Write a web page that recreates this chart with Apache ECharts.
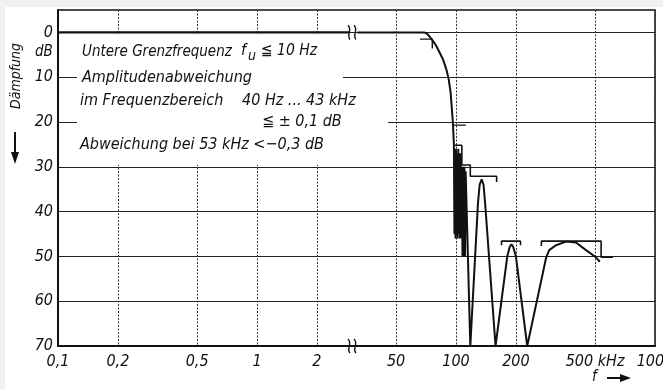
<!DOCTYPE html>
<html>
<head>
<meta charset="utf-8">
<script src="https://cdn.jsdelivr.net/npm/echarts@6/dist/echarts.min.js"></script>
<style>
  html, body { margin: 0; padding: 0; background: #ffffff; }
  #chart { width: 663px; height: 389px; }
</style>
</head>
<body>
<div id="chart"></div>
<script>
// Frequency axis: logarithmic, with the range 3 kHz ... 30 kHz cut out
// (the part above the break is drawn one decade further left).
const tickFreq = [0.1, 0.2, 0.5, 1, 2, 50, 100, 200, 500, 1000];
const tickText = ['0,1', '0,2', '0,5', '1', '2', '50', '100', '200', '500 kHz', '1000'];
const dbTicks  = [0, 10, 20, 30, 40, 50, 60, 70];
const BREAK_FREQ = 3;

// Attenuation below the break (kHz, dB)
const lowFreq = [0.1, 2.9];
const lowDb   = [0, 0];

// Attenuation above the break (kHz, dB)
const curveFreq = [
  32, 60, 69, 71, 73, 75.7, 78, 80, 83.2, 86, 88, 90, 92, 94, 96.4, 97.6,
  98.2, 98.8, 99.4, 100, 100.7, 101.3, 102, 102.7, 103.4, 104, 104.8, 105.5, 106.3, 107,
  107.8, 108.6, 109.4, 110.2, 111, 111.8, 118,
  129, 131.5, 134.6, 137.5, 140, 158,
  181, 186, 190, 194, 200, 228,
  284, 294, 318, 357, 401, 450, 505, 528
];
const curveDb = [
  0, 0, 0, 0.2, 0.7, 1.6, 2.4, 3.2, 4.7, 6, 7.3, 8.7, 10.6, 13.5, 20, 25,
  45, 26, 46, 26, 45, 27, 46, 26, 45, 27, 46, 27, 46, 30,
  50, 30, 50, 30, 50, 31, 70,
  38, 34, 32.8, 34, 38, 70,
  50, 47.9, 47.3, 47.9, 50, 70,
  50.2, 48.6, 47.5, 46.7, 46.9, 48.6, 50.2, 51.2
];

// Tolerance marks [kHz, dB]
const tolPassband = [[66, 1.5], [76, 1.5], [76, 3.6]];
const tolTwenty   = [[96.4, 20.7], [112, 20.7]];
const tolStep     = [[98.6, 25.2], [107, 25.2], [107, 29.6], [118, 29.6], [118, 32.1], [160, 32.1], [160, 33.4]];
const tolBracket1 = [[169.3, 47.5], [169.3, 46.6], [210.9, 46.6], [210.9, 47.5]];
const tolBracket2 = [[268.6, 47.7], [268.6, 46.6], [536, 46.6], [536, 50.2], [615, 50.2]];

// position on the (broken) logarithmic axis
function axisPos(f) {
  const p = f <= BREAK_FREQ ? f : f / 10;
  return Math.log10(p);
}
const tickPos = tickFreq.map(axisPos);
function tickLabel(v) {
  for (let i = 0; i < tickPos.length; i++) {
    if (Math.abs(tickPos[i] - v) < 1e-6) return tickText[i];
  }
  return '';
}
function pts(fs, ds) { return fs.map((f, i) => [axisPos(f), ds[i]]); }
function tolPts(arr) { return arr.map(p => [axisPos(p[0]), p[1]]); }

const FONT = "'DejaVu Sans Condensed', 'DejaVu Sans', sans-serif";
const INK = '#111';

const chart = echarts.init(document.getElementById('chart'), null, { renderer: 'canvas' });

const lineSeries = (name, data, w) => ({
  name, type: 'line', data, symbol: 'none', silent: true, animation: false,
  lineStyle: { color: INK, width: w }, z: 3
});

chart.setOption({
  backgroundColor: '#ffffff',
  animation: false,
  grid: {
    left: 58, right: 8, top: 10, bottom: 43, show: true,
    borderColor: INK, borderWidth: 1.5,
    containLabel: false, outerBoundsMode: 'none'
  },
  xAxis: {
    type: 'value', min: axisPos(0.1), max: axisPos(1000),
    axisLine: { onZero: false, lineStyle: { color: INK, width: 2 } },
    axisTick: { show: false, customValues: tickPos },
    axisLabel: {
      customValues: tickPos, formatter: tickLabel, margin: 8, hideOverlap: false,
      showMinLabel: true, showMaxLabel: true,
      fontFamily: FONT, fontStyle: 'italic', fontSize: 16, color: INK
    },
    splitLine: { show: true, lineStyle: { color: '#333', width: 1, type: [2, 1.5] } }
  },
  yAxis: {
    type: 'value', inverse: true, min: -5, max: 70,
    axisLine: { onZero: false, lineStyle: { color: INK, width: 2 } },
    axisTick: { show: false, customValues: dbTicks },
    axisLabel: {
      customValues: dbTicks, margin: 5,
      fontFamily: FONT, fontStyle: 'italic', fontSize: 16, color: INK
    },
    splitLine: { show: true, lineStyle: { color: '#222', width: 1.2 } }
  },
  series: [
    lineSeries('unten', pts(lowFreq, lowDb), 2.2),
    lineSeries('Dämpfung', pts(curveFreq, curveDb), 2),
    lineSeries('Toleranz 1', tolPts(tolPassband), 1.4),
    lineSeries('Toleranz 2', tolPts(tolTwenty), 1.4),
    lineSeries('Toleranz 3', tolPts(tolStep), 1.6),
    lineSeries('Toleranz 4', tolPts(tolBracket1), 1.6),
    lineSeries('Toleranz 5', tolPts(tolBracket2), 1.6)
  ]
});

// annotations: text panel, axis names, break marks
const bx = chart.convertToPixel({ xAxisIndex: 0 }, Math.log10(BREAK_FREQ));
const yTop = chart.convertToPixel({ yAxisIndex: 0 }, 0);
const yBot = chart.convertToPixel({ yAxisIndex: 0 }, 70);
const y10 = chart.convertToPixel({ yAxisIndex: 0 }, 10);
const y30 = chart.convertToPixel({ yAxisIndex: 0 }, 30);

function breakMark(cx, cy) {
  const mk = dx => ({
    type: 'bezierCurve', z: 20, silent: true,
    shape: { x1: cx + dx - 1, y1: cy - 7, cpx1: cx + dx + 4, cpy1: cy - 3, cpx2: cx + dx - 3, cpy2: cy + 3, x2: cx + dx + 1, y2: cy + 7 },
    style: { stroke: INK, lineWidth: 1.4, fill: null }
  });
  return [mk(-3), mk(3)];
}
const txt = (x, y, text, size, extra) => Object.assign({
  type: 'text', x, y, z: 30, silent: true,
  style: { text, fontFamily: FONT, fontStyle: 'italic', fontSize: size || 16, fill: INK, textVerticalAlign: 'middle', textAlign: 'left' }
}, extra || {});

chart.setOption({
  graphic: [
    // light scan margin
    { type: 'rect', z: 0, silent: true, shape: { x: 0, y: 0, width: 663, height: 7 }, style: { fill: '#f0f0f0' } },
    { type: 'rect', z: 0, silent: true, shape: { x: 0, y: 0, width: 5, height: 389 }, style: { fill: '#f0f0f0' } },
    // white panel behind the notes
    { type: 'rect', z: 10, silent: true, shape: { x: 77, y: yTop + 2, width: 266, height: y30 - yTop - 4 }, style: { fill: '#fff' } },
    { type: 'rect', z: 10, silent: true, shape: { x: 340, y: y10 + 12, width: 48, height: y30 - y10 - 14 }, style: { fill: '#fff' } },
    txt(82, 52, 'Untere Grenzfrequenz', 15),
    txt(241, 51, 'f', 16),
    txt(248, 56, 'u', 14),
    txt(261, 51, '≦ 10 Hz', 15.5),
    txt(82, 78, 'Amplitudenabweichung'),
    txt(80, 101, 'im Frequenzbereich'),
    txt(242, 101, '40 Hz ... 43 kHz'),
    txt(262, 122, '≦ ± 0,1 dB'),
    txt(80, 145, 'Abweichung bei 53 kHz <−0,3 dB'),
    // unit under the zero label
    txt(35, 52, 'dB', 15),
    // vertical axis name with arrow
    txt(16, 76, 'Dämpfung', 14, { rotation: Math.PI / 2, style: { text: 'Dämpfung', fontFamily: FONT, fontStyle: 'italic', fontSize: 14, fill: INK, textVerticalAlign: 'middle', textAlign: 'center' } }),
    { type: 'line', z: 30, silent: true, shape: { x1: 15, y1: 132, x2: 15, y2: 154 }, style: { stroke: INK, lineWidth: 2 } },
    { type: 'polygon', z: 30, silent: true, shape: { points: [[11, 152], [19, 152], [15, 164]] }, style: { fill: INK } },
    // frequency axis name with arrow
    txt(592, 377, 'f', 15),
    { type: 'line', z: 30, silent: true, shape: { x1: 607, y1: 378, x2: 622, y2: 378 }, style: { stroke: INK, lineWidth: 2 } },
    { type: 'polygon', z: 30, silent: true, shape: { points: [[620, 374], [620, 382], [631, 378]] }, style: { fill: INK } }
  ].concat(breakMark(bx, yTop), breakMark(bx, yBot))
});
</script>
</body>
</html>
